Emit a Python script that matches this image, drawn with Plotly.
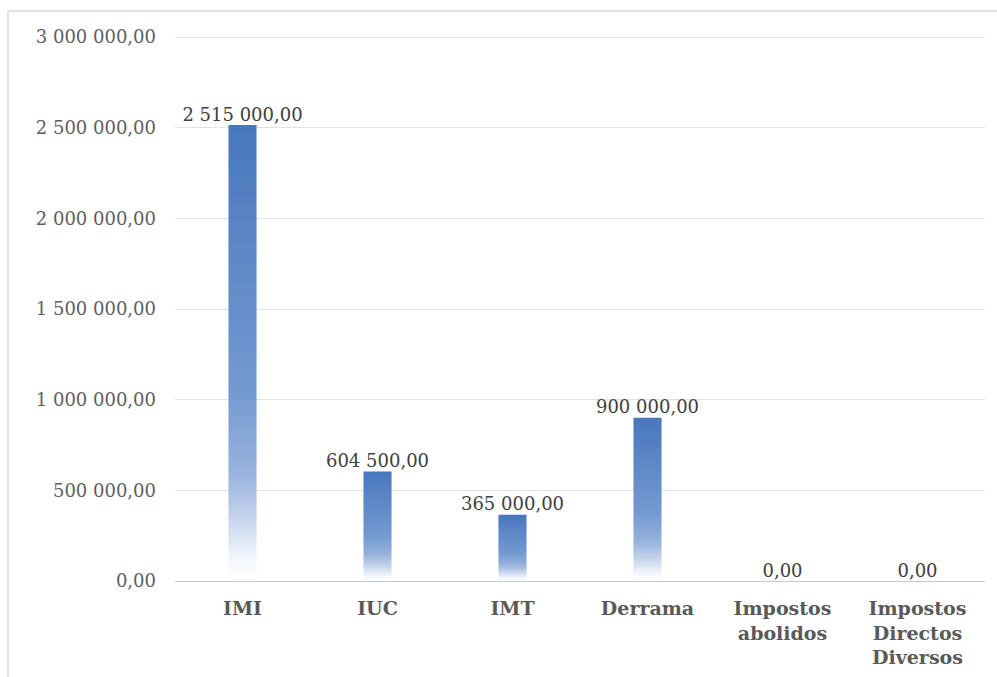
import plotly.graph_objects as go

# Receitas: impostos directos
categorias = ["IMI", "IUC", "IMT", "Derrama", "Impostos<br>abolidos", "Impostos<br>Directos<br>Diversos"]
valores = [2515000.00, 604500.00, 365000.00, 900000.00, 0.00, 0.00]
y_ticks = [0, 500000, 1000000, 1500000, 2000000, 2500000, 3000000]

SERIF = "DejaVu Serif"
BAR_HALF = 0.104
# vertical gradient: white at the base, blue at the top
escala = [[0.0, "#ffffff"], [0.05, "#f2f6fb"], [0.12, "#cddaee"], [0.24, "#97b2dd"],
          [0.42, "#7399d0"], [1.0, "#4977be"]]

fig = go.Figure()

for i, v in enumerate(valores):
    if v <= 0:
        continue
    fig.add_trace(go.Scatter(
        x=[i - BAR_HALF, i + BAR_HALF, i + BAR_HALF, i - BAR_HALF, i - BAR_HALF],
        y=[0, 0, v, v, 0],
        mode="lines", line=dict(width=0),
        fill="toself",
        fillgradient=dict(type="vertical", colorscale=escala),
        hoverinfo="skip", showlegend=False,
    ))

# value labels above each bar
fig.add_trace(go.Scatter(
    x=list(range(len(valores))), y=valores,
    mode="text", texttemplate="%{y:,.2f}", textposition="top center",
    textfont=dict(family=SERIF, size=18, color="#404040"),
    hoverinfo="skip", showlegend=False,
))

Y_TOP = 3012000  # a little headroom so the top gridline is drawn

fig.update_layout(
    width=997, height=677,
    margin=dict(l=175, r=12, t=35, b=96),
    paper_bgcolor="white", plot_bgcolor="white",
    separators=", ",
    showlegend=False,
    xaxis=dict(
        range=[-0.5, len(categorias) - 0.5],
        tickmode="array", tickvals=list(range(len(categorias))), ticktext=categorias,
        showgrid=False, zeroline=False, automargin=False,
        showline=True, linecolor="#c8c8c8", linewidth=1,
        ticks="", ticklabelstandoff=10,
        tickfont=dict(family=SERIF, size=19, color="#595959", weight="bold"),
    ),
    yaxis=dict(
        range=[0, Y_TOP],
        tickmode="array", tickvals=y_ticks, tickformat=",.2f",
        showgrid=True, gridcolor="#e3e3e3", gridwidth=1,
        zeroline=False, showline=False, automargin=False,
        ticks="", ticklabelstandoff=18,
        tickfont=dict(family=SERIF, size=18, color="#5f5f5f"),
    ),
    shapes=[
        # chart frame (top and left edges)
        dict(type="line", xref="paper", yref="paper",
             x0=(8 - 175) / 810, x1=(997 - 175) / 810, y0=(677 - 96 - 11) / 546, y1=(677 - 96 - 11) / 546,
             line=dict(color="#d9d9d9", width=1.5)),
        dict(type="line", xref="paper", yref="paper",
             x0=(8 - 175) / 810, x1=(8 - 175) / 810, y0=(677 - 96 - 11) / 546, y1=-96 / 546,
             line=dict(color="#d9d9d9", width=1.5)),
    ],
)

fig.write_html("out.html")
